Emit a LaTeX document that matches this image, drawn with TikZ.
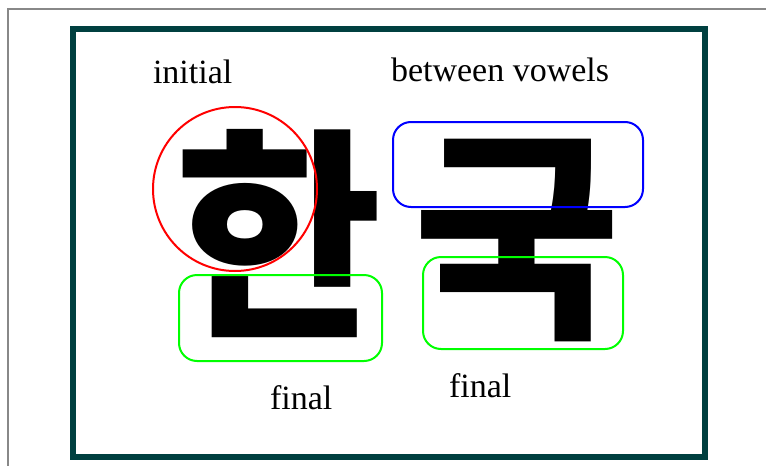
\documentclass[tikz,border=0pt]{standalone}
\usepackage{fontspec}
\setmainfont{Liberation Serif}
\newfontfamily\krfont{Noto Sans CJK KR}
\definecolor{frameteal}{RGB}{0,64,64}
\definecolor{pagegray}{RGB}{136,136,136}

\begin{document}
\begin{tikzpicture}[x=1pt, y=-1pt,
    every node/.style={inner sep=0pt, outer sep=0pt},
    caption/.style={anchor=base west, font=\fontsize{34}{34}\selectfont},
    syllable/.style={font=\krfont\bfseries\fontsize{225}{225}\selectfont},
    partbox/.style={line width=2pt, rounded corners=18pt}]
            \useasboundingbox (0,0) rectangle (766,466);
            \draw[color=pagegray, line width=2pt] (8,466) -- (8,9) -- (766,9);
            \draw[color=frameteal, line width=6pt] (73,29) rectangle (705,457);
            \node[syllable] (han) at (279,234) {한};
            \node[syllable] (guk) at (517,241) {국};
            \draw[color=red, line width=2pt] (235,189) circle [radius=82pt];
            \draw[partbox, color=blue] (393,122) rectangle (643,207);
            \draw[partbox, color=green] (179,275) rectangle (382,361);
            \draw[partbox, color=green] (423,257) rectangle (623,349);
            \node[caption] (initial) at (153,83) {initial};
            \node[caption] (between) at (391,81) {between vowels};
            \node[caption] (finalhan) at (270,409) {final};
            \node[caption] (finalguk) at (449,397) {final};
        \end{tikzpicture}
\end{document}
